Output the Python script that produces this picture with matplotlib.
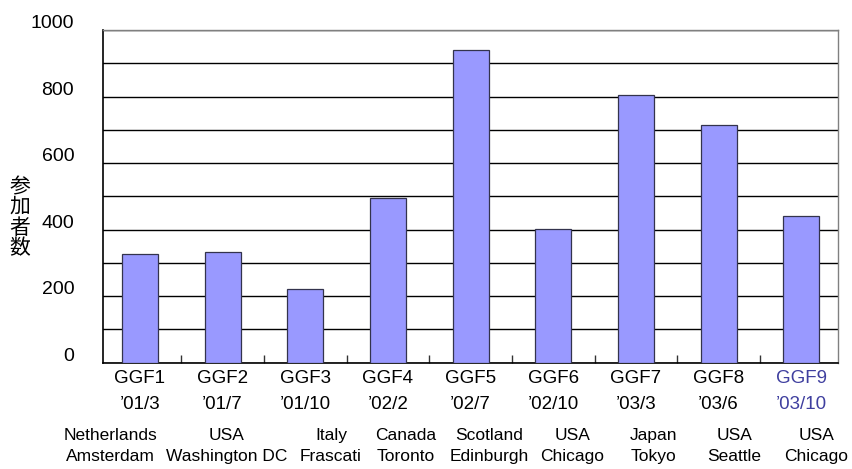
import numpy as np
import matplotlib.pyplot as plt
from matplotlib.ticker import MultipleLocator, FixedLocator
import matplotlib.transforms as mtransforms

plt.rcParams['font.family'] = ['Liberation Sans', 'Noto Sans CJK JP', 'DejaVu Sans']

# Data
meetings = ["GGF1", "GGF2", "GGF3", "GGF4", "GGF5", "GGF6", "GGF7", "GGF8", "GGF9"]
dates = ["’01/3", "’01/7", "’01/10", "’02/2", "’02/7", "’02/10", "’03/3", "’03/6", "’03/10"]
countries = ["Netherlands", "USA", "Italy", "Canada", "Scotland", "USA", "Japan", "USA", "USA"]
cities = ["Amsterdam", "Washington DC", "Frascati", "Toronto", "Edinburgh",
          "Chicago", "Tokyo", "Seattle", "Chicago"]
attendees = [326, 334, 220, 496, 941, 403, 805, 715, 442]

# horizontal nudges of the place labels (in category units), as laid out in the original
place_dx = [-0.36, 0.05, 0.31, 0.21, 0.23, 0.23, 0.21, 0.19, 0.18]

fig = plt.figure(figsize=(8.53, 4.69), dpi=100)
ax = fig.add_axes([0.1211, 0.2267, 0.8609, 0.7093])

x = np.arange(len(meetings))
ax.bar(x, attendees, width=0.435, color="#9999ff", edgecolor="#33334d",
       linewidth=0.9, zorder=3)

ax.set_xlim(-0.443, 8.44)
ax.set_ylim(0, 1000)

# gridlines every 100
ax.yaxis.set_minor_locator(MultipleLocator(100))
ax.grid(True, axis="y", which="both", color="black", linewidth=1.0, zorder=1)
ax.set_yticks(np.arange(0, 1001, 200))
ax.tick_params(axis="y", which="both", length=0, labelsize=14, pad=21)
offset = mtransforms.ScaledTranslation(0, 6 / 72, fig.dpi_scale_trans)
for lab in ax.get_yticklabels():
    lab.set_transform(lab.get_transform() + offset)

# x labels: meeting name + date
ax.set_xticks(x)
ax.set_xticklabels([f"{m}\n{d}" for m, d in zip(meetings, dates)],
                   fontsize=13.5, linespacing=1.7)
ax.tick_params(axis="x", which="major", length=0, pad=5.5)
ax.get_xticklabels()[-1].set_color("#3f3f9f")

# small inward ticks between categories
ax.xaxis.set_minor_locator(FixedLocator(x[:-1] + 0.5))
ax.tick_params(axis="x", which="minor", direction="in", length=6,
               width=1, color="#333333")

for s in ["left", "bottom"]:
    ax.spines[s].set_color("black")
    ax.spines[s].set_linewidth(1.2)
for s in ["top", "right"]:
    ax.spines[s].set_color("#808080")
    ax.spines[s].set_linewidth(1.0)

trans = ax.get_xaxis_transform()
for i in range(len(meetings)):
    ax.text(x[i] + place_dx[i], -0.25, f"{countries[i]}\n{cities[i]}",
            transform=trans, ha="center", va="center", fontsize=12.5,
            linespacing=1.45)

fig.text(20 / 853, 1 - 218 / 469, "参\n加\n者\n数", ha="center", va="center",
         fontsize=15, linespacing=1.05)

fig.savefig("out.png", dpi=100)
